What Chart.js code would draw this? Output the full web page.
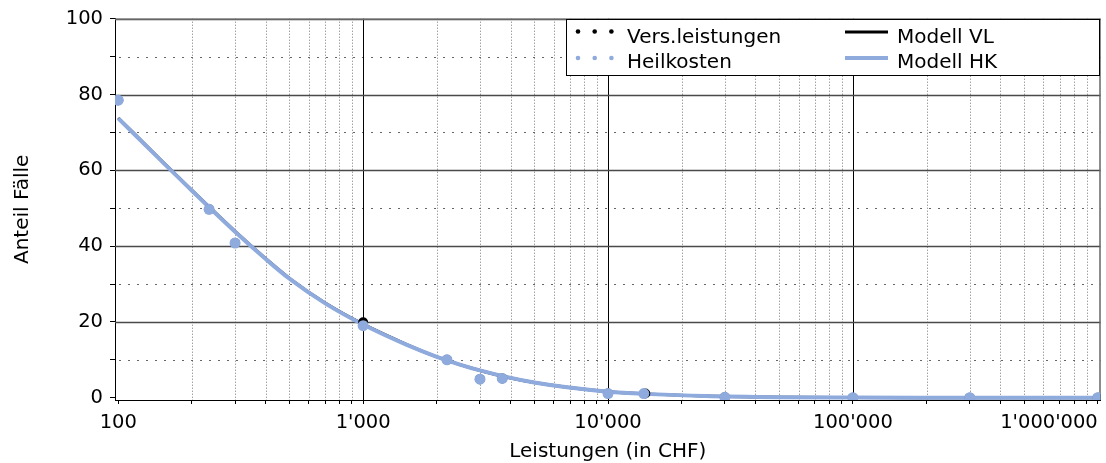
<!DOCTYPE html>
<html lang="de">
<head>
<meta charset="UTF-8">
<title>Anteil Fälle nach Leistungen</title>
<script src="https://cdn.jsdelivr.net/npm/chart.js"></script>
<style>
  body { margin: 0; background: #fff; }
  #wrap { width: 1106px; height: 463px; }
</style>
</head>
<body>
<div id="wrap"><canvas id="chart" width="1106" height="463"></canvas></div>
<script>
// observed points (Leistungen in CHF / Anteil Fälle in %)
const pointXVL = [100, 235, 300, 1000, 2200, 3000, 3700, 10000, 14200, 30000, 100000, 300000, 1000000];
const pointYVL = [78.5, 49.7, 40.8, 19.9, 10, 4.9, 5.1, 1.1, 1.1, 0.1, 0, 0, 0];
const pointXHK = [100, 235, 300, 1000, 2200, 3000, 3700, 10000, 14000, 30000, 100000, 300000, 1000000];
const pointYHK = [78.5, 49.7, 40.8, 19, 10, 4.9, 5.1, 1.1, 1.1, 0.1, 0, 0, 0];

// fitted model curves
const modelX  = [100, 150, 200, 300, 400, 500, 700, 1000, 1500, 2000, 3000, 5000, 10000, 15000, 25000, 50000, 100000, 300000, 1000000];
const modelVL = [73.8, 62.6, 54.7, 43.9, 36.7, 31.5, 25.0, 19.4, 14.1, 10.8, 7.2, 4.0, 1.6, 0.95, 0.45, 0.15, 0.05, 0.01, 0];
const modelHK = [73.7, 62.5, 54.6, 43.8, 36.6, 31.4, 24.9, 19.3, 14.0, 10.8, 7.2, 4.0, 1.6, 0.95, 0.45, 0.15, 0.05, 0.01, 0];

// axes
const xLabelValues = [100, 1000, 10000, 100000, 1000000];
const xLabels = ["100", "1'000", "10'000", "100'000", "1'000'000"];
const yTickValues = [0, 10, 20, 30, 40, 50, 60, 70, 80, 90, 100];

const BLUE = '#8faadc';
const FONT = "'DejaVu Sans', Verdana, sans-serif";

Chart.defaults.font.family = FONT;
Chart.defaults.color = '#000';

function toXY(xs, ys) {
    return xs.map((x, i) => ({ x: x, y: ys[i] }));
}

function isDecade(v) {
    const l = Math.log10(v);
    return Math.abs(l - Math.round(l)) < 1e-9;
}

// x ticks: 1..9 per decade
const xTickValues = [];
for (let d = 10; d <= 1000000; d *= 10) {
    for (let k = 1; k <= 9; k++) xTickValues.push(k * d);
}

function line(ctx, x1, y1, x2, y2) {
    ctx.beginPath();
    ctx.moveTo(x1, y1);
    ctx.lineTo(x2, y2);
    ctx.stroke();
}

const gridPlugin = {
    id: 'gridLines',
    beforeDatasetsDraw(chart) {
        const { ctx, chartArea: a, scales: { x, y } } = chart;
        ctx.save();
        ctx.lineWidth = 1;
        // dotted minor lines
        ctx.setLineDash([1, 2]);
        ctx.strokeStyle = '#777';
        x.ticks.forEach(t => {
            if (isDecade(t.value)) return;
            const px = Math.round(x.getPixelForValue(t.value)) + 0.5;
            if (px > a.left + 1 && px < a.right - 1) line(ctx, px, a.top, px, a.bottom);
        });
        ctx.setLineDash([2, 7]);
        ctx.strokeStyle = '#666';
        y.ticks.forEach(t => {
            if (t.value % 20 === 0) return;
            const py = Math.round(y.getPixelForValue(t.value)) + 0.5;
            line(ctx, a.left + 4, py, a.right, py);
        });
        // solid major lines
        ctx.setLineDash([]);
        ctx.strokeStyle = '#000';
        x.ticks.forEach(t => {
            if (!isDecade(t.value)) return;
            const px = Math.round(x.getPixelForValue(t.value)) + 0.5;
            if (px > a.left + 4 && px < a.right - 4) line(ctx, px, a.top, px, a.bottom);
        });
        ctx.strokeStyle = '#4a4a4a';
        ctx.lineWidth = 1.5;
        y.ticks.forEach(t => {
            if (t.value % 20 !== 0 || t.value === 0) return;
            const py = Math.round(y.getPixelForValue(t.value)) + 0.5;
            line(ctx, a.left, py, a.right, py);
        });
        // frame top / right
        ctx.strokeStyle = '#666';
        line(ctx, a.left, a.top + 0.5, a.right, a.top + 0.5);
        line(ctx, a.right - 0.5, a.top, a.right - 0.5, a.bottom);
        ctx.restore();
    }
};

const xLabelPlugin = {
    id: 'xLabels',
    afterDraw(chart) {
        const { ctx, scales: { x } } = chart;
        ctx.save();
        ctx.font = '19.5px ' + FONT;
        ctx.fillStyle = '#000';
        ctx.textBaseline = 'alphabetic';
        xLabelValues.forEach((v, i) => {
            const px = x.getPixelForValue(v);
            const w = ctx.measureText(xLabels[i]).width;
            ctx.textAlign = (px + w / 2 > chart.width - 2) ? 'right' : 'center';
            ctx.fillText(xLabels[i], px, x.top + 28);
        });
        ctx.restore();
    }
};

const legendPlugin = {
    id: 'boxLegend',
    afterDraw(chart) {
        const ctx = chart.ctx;
        const ds = chart.data.datasets;
        const left = 566, top = 19, right = 1099, bottom = 75;
        ctx.save();
        ctx.fillStyle = '#fff';
        ctx.fillRect(left, top, right - left, bottom - top);
        ctx.strokeStyle = '#000';
        ctx.lineWidth = 1;
        ctx.strokeRect(left + 0.5, top + 0.5, right - left, bottom - top);

        const items = [
            { d: ds[1], kind: 'dots', mx: 578, tx: 627, my: 31.5, ty: 43, r: 2.3 },
            { d: ds[0], kind: 'dots', mx: 578, tx: 627, my: 58, ty: 68, r: 2.3 },
            { d: ds[3], kind: 'line', mx: 845, tx: 897, my: 32, ty: 43 },
            { d: ds[2], kind: 'line', mx: 845, tx: 897, my: 58, ty: 68 }
        ];
        ctx.font = '20px ' + FONT;
        ctx.textBaseline = 'alphabetic';
        ctx.textAlign = 'left';
        items.forEach(it => {
            if (it.kind === 'dots') {
                ctx.fillStyle = it.d.backgroundColor;
                for (let k = 0; k < 3; k++) {
                    ctx.beginPath();
                    ctx.arc(it.mx + k * 16.7, it.my, it.r, 0, Math.PI * 2);
                    ctx.fill();
                }
            } else {
                ctx.strokeStyle = it.d.borderColor;
                ctx.lineWidth = it.d.borderWidth;
                line(ctx, it.mx, it.my, it.mx + 43, it.my);
            }
            ctx.fillStyle = '#000';
            ctx.fillText(it.d.label, it.tx, it.ty);
        });
        ctx.restore();
    }
};

new Chart(document.getElementById('chart'), {
    type: 'line',
    data: {
        datasets: [
            {
                label: 'Heilkosten',
                data: toXY(pointXHK, pointYHK),
                showLine: false,
                backgroundColor: BLUE,
                borderColor: BLUE,
                pointRadius: 5.5,
                pointBorderWidth: 0,
                order: 0
            },
            {
                label: 'Vers.leistungen',
                data: toXY(pointXVL, pointYVL),
                showLine: false,
                backgroundColor: '#000',
                borderColor: '#000',
                pointRadius: 5,
                pointBorderWidth: 0,
                order: 1
            },
            {
                label: 'Modell HK',
                data: toXY(modelX, modelHK),
                borderColor: BLUE,
                backgroundColor: BLUE,
                borderWidth: 4,
                pointRadius: 0,
                cubicInterpolationMode: 'monotone',
                order: 2
            },
            {
                label: 'Modell VL',
                data: toXY(modelX, modelVL),
                borderColor: '#000',
                backgroundColor: '#000',
                borderWidth: 3,
                pointRadius: 0,
                cubicInterpolationMode: 'monotone',
                order: 3
            }
        ]
    },
    options: {
        responsive: false,
        animation: false,
        devicePixelRatio: 1,
        layout: { padding: { top: 16, right: 4, left: 0, bottom: 0 } },
        plugins: {
            legend: { display: false },
            tooltip: { enabled: false }
        },
        scales: {
            x: {
                type: 'logarithmic',
                min: 97,
                max: 1026000,
                afterBuildTicks: s => {
                    s.ticks = xTickValues.filter(v => v >= s.min && v <= s.max).map(v => ({ value: v }));
                },
                afterFit: s => { s.height = 63; s.paddingLeft = 0; s.paddingRight = 0; },
                ticks: { display: false },
                grid: { drawOnChartArea: false, drawTicks: true, tickLength: 4, tickColor: '#000' },
                border: { color: '#000', width: 1 },
                title: {
                    display: true,
                    text: 'Leistungen (in CHF)',
                    font: { size: 20, lineHeight: 1.1 },
                    padding: { top: 0, bottom: 0 }
                }
            },
            y: {
                type: 'linear',
                min: -0.6,
                max: 100,
                afterBuildTicks: s => {
                    s.ticks = yTickValues.map(v => ({ value: v }));
                },
                afterFit: s => { s.width = 115; },
                ticks: {
                    autoSkip: false,
                    padding: 7,
                    font: { size: 19.5 },
                    callback: v => (v % 20 === 0 ? String(v) : '')
                },
                grid: { drawOnChartArea: false, drawTicks: true, tickLength: 5, tickColor: '#000' },
                border: { color: '#000', width: 1 },
                title: {
                    display: true,
                    text: 'Anteil Fälle',
                    font: { size: 20, lineHeight: 1.2 },
                    padding: { top: 11, bottom: 0 }
                }
            }
        }
    },
    plugins: [gridPlugin, xLabelPlugin, legendPlugin]
});
</script>
</body>
</html>
